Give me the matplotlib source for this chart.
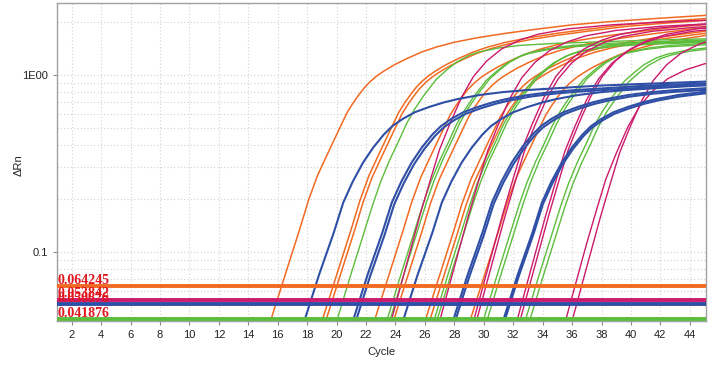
import numpy as np
import matplotlib
matplotlib.use('Agg')
import matplotlib.pyplot as plt
from matplotlib.ticker import FixedLocator, FixedFormatter, LogLocator, NullFormatter

# amplification curve shapes (cycles after crossing the plot floor, delta Rn)
orange_r = [-3, -2, -1, 0, 1, 2, 2.6, 3.2, 3.8, 4.5, 5.2, 5.6, 6.0, 6.4, 6.8, 7.25, 7.7,
            8.1, 8.5, 9.3, 10.3, 11.3, 12.5, 14, 16, 18, 20.5, 23, 26, 29.5, 31]
orange_v = [0.0066, 0.012, 0.022, 0.0405, 0.074, 0.135, 0.197, 0.27, 0.346, 0.46, 0.61,
            0.69, 0.77, 0.85, 0.92, 0.99, 1.05, 1.10, 1.15, 1.24, 1.35, 1.44, 1.53,
            1.62, 1.72, 1.81, 1.92, 2.0, 2.08, 2.17, 2.2]
blue_r = [-3, -2, -1, 0, 1, 2, 2.65, 3.3, 4.0, 4.7, 5.4, 6.0, 6.7, 7.5, 8.5, 9.5, 10.4,
          11.9, 13.5, 15, 17.5, 20, 23, 27.2, 31]
blue_v = [0.0063, 0.0118, 0.0218, 0.0405, 0.074, 0.128, 0.19, 0.25, 0.32, 0.39, 0.46,
          0.515, 0.565, 0.615, 0.66, 0.70, 0.73, 0.77, 0.80, 0.82, 0.845, 0.87, 0.89,
          0.917, 0.93]
green_r = [-3, -2, -1, 0, 1, 2, 2.5, 3.0, 3.6, 4.2, 4.75, 5.3, 5.9, 6.8, 7.5, 8.15, 9.0,
           9.7, 11, 12.5, 15, 18, 21, 25, 31]
green_v = [0.0061, 0.0115, 0.0215, 0.0405, 0.076, 0.14, 0.19, 0.25, 0.33, 0.42, 0.53,
           0.64, 0.76, 0.95, 1.07, 1.18, 1.29, 1.35, 1.42, 1.47, 1.51, 1.54, 1.57,
           1.6, 1.62]
magenta_r = [-3, -2, -1, 0, 1, 2, 2.7, 3.3, 4.0, 4.8, 5.6, 6.5, 7.5, 8.7, 10, 12, 15,
             20, 25, 31]
magenta_v = [0.0052, 0.0098, 0.0195, 0.0405, 0.082, 0.165, 0.26, 0.38, 0.53, 0.75,
             0.98, 1.2, 1.4, 1.57, 1.7, 1.82, 1.92, 2.02, 2.08, 2.12]

# wells: cycle where each curve leaves the floor, plateau scale
orange_ct = [15.5, 19.0, 19.25, 22.55, 23.85, 26.0, 26.3, 29.05]
orange_k = [1.0, 1.0, 0.98, 0.97, 0.95, 0.95, 0.93, 0.97]
blue_ct = [17.8, 21.1, 21.3, 24.5, 27.9, 28.05, 31.3, 31.4]
blue_k = [1.0, 1.0, 0.98, 1.0, 1.0, 0.98, 1.0, 0.98]
green_ct = [20.0, 23.4, 23.6, 26.6, 26.8, 29.95, 30.2, 32.8, 33.1]
green_k = [1.0, 0.98, 1.0, 0.99, 1.01, 0.98, 1.0, 0.97, 0.96]
magenta_ct = [23.7, 27.0, 29.3, 29.5, 32.25, 32.45, 35.6, 36.0]
magenta_k = [1.0, 0.98, 1.0, 0.97, 0.97, 1.0, 0.68, 0.95]

thresholds = [0.064245, 0.053842, 0.050676, 0.041876]
threshold_labels = ['0.064245', '0.053842', '0.050676', '0.041876']

c_orange = '#f26a22'
c_blue = '#2f4fa6'
c_green = '#5cbd3c'
c_magenta = '#cc1a6c'
threshold_colors = [c_orange, c_magenta, c_blue, c_green]

fig = plt.figure(figsize=(7.15, 3.67), dpi=100)
ax = fig.add_axes([0.0797, 0.1253, 0.9077, 0.8665])

groups = [
    (orange_r, orange_v, orange_ct, orange_k, c_orange, 1.1),
    (green_r, green_v, green_ct, green_k, c_green, 1.0),
    (magenta_r, magenta_v, magenta_ct, magenta_k, c_magenta, 1.0),
    (blue_r, blue_v, blue_ct, blue_k, c_blue, 1.5),
]
growth = 1.9
for r, v, cts, ks, col, lw in groups:
    r = np.array(r)
    v = np.array(v)
    for ct, k in zip(cts, ks):
        shift = ct + np.log(k) / np.log(growth)
        ax.plot(r + shift, v * k, color=col, lw=lw, zorder=3)

for thr, col in zip(thresholds, threshold_colors):
    ax.axhline(thr, color=col, lw=2.8, zorder=5)
for thr, lab in zip(thresholds, threshold_labels):
    ax.text(1.02, thr * 1.03, lab, color='#e0161e', fontsize=10, fontweight='bold',
            family='Liberation Serif', ha='left', va='baseline', zorder=6)

ax.set_yscale('log')
ax.set_xlim(1, 45.1)
ax.set_ylim(0.0407, 2.55)

ax.set_xticks(np.arange(2, 45, 2))
ax.yaxis.set_major_locator(FixedLocator([0.1, 1.0]))
ax.yaxis.set_major_formatter(FixedFormatter(['0.1', '1E00']))
ax.yaxis.set_minor_locator(LogLocator(base=10, subs=np.arange(2, 10)))
ax.yaxis.set_minor_formatter(NullFormatter())

ax.grid(True, which='both', axis='y', color='#d2d2d2', linestyle=(0, (1, 2)), lw=0.8)
ax.grid(True, which='major', axis='x', color='#d2d2d2', linestyle=(0, (1, 2)), lw=0.8)
ax.set_axisbelow(True)

ax.tick_params(axis='both', which='major', labelsize=8, colors='#8a8a8a',
               labelcolor='#222222', length=3, width=0.8)
ax.tick_params(axis='y', which='minor', length=0)
for lbl in ax.get_xticklabels() + ax.get_yticklabels():
    lbl.set_family('Liberation Sans')

for s in ax.spines.values():
    s.set_color('#a0a0a0')
    s.set_linewidth(1.0)

ax.set_xlabel('Cycle', fontsize=8, family='Liberation Sans', color='#222222', labelpad=5)
ax.set_ylabel('ΔRn', fontsize=8, family='Liberation Sans', color='#222222')
ax.yaxis.set_label_coords(-0.052, 0.49)

fig.savefig('out.png', dpi=100)
